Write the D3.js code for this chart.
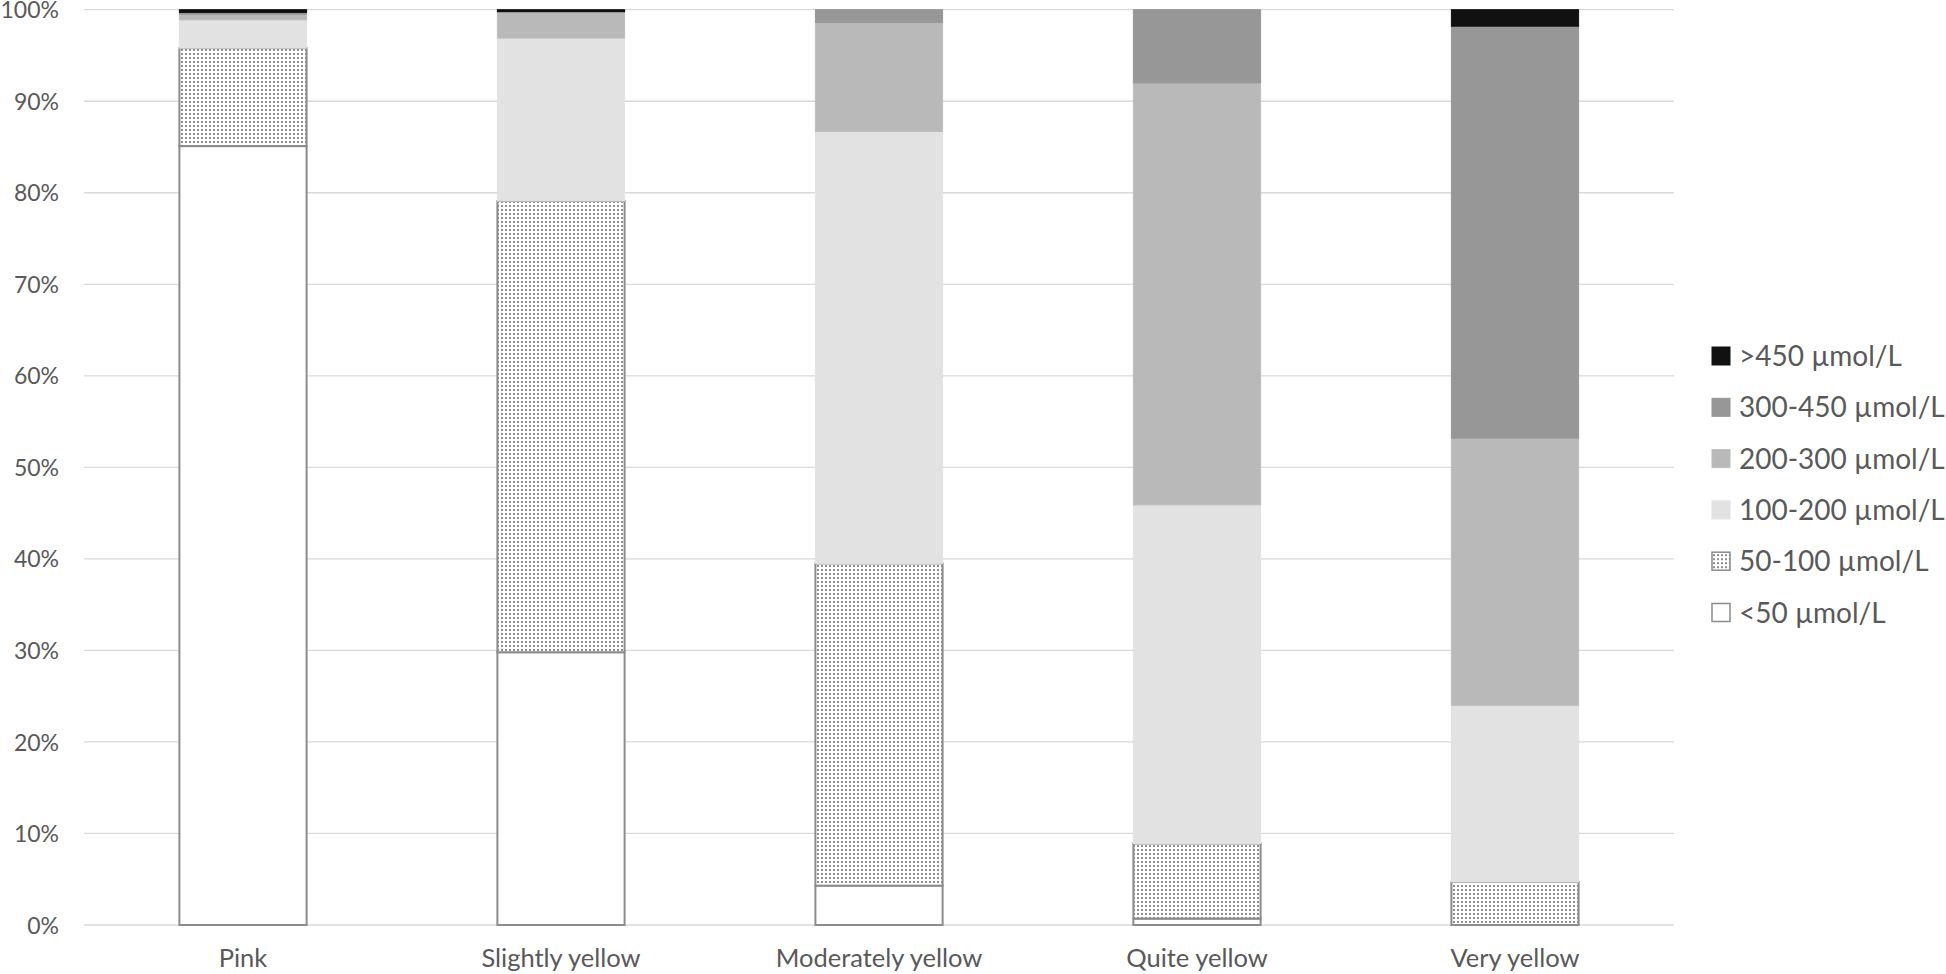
<!DOCTYPE html>
<html>
<head>
<meta charset="utf-8">
<script src="https://cdn.jsdelivr.net/npm/d3@7/dist/d3.min.js"></script>
<style>
  html, body { margin: 0; padding: 0; background: #fff; }
  svg { display: block; }
  text { font-family: Lato, "Open Sans", sans-serif; fill: #595959; }
</style>
</head>
<body>
<svg id="chart" width="1946" height="974"></svg>
<script>
const categories = ["Pink", "Slightly yellow", "Moderately yellow", "Quite yellow", "Very yellow"];
const seriesNames = ["<50 µmol/L", "50-100 µmol/L", "100-200 µmol/L", "200-300 µmol/L", "300-450 µmol/L", ">450 µmol/L"];
const lt50   = [85.1, 29.8, 4.3, 0.7, 0.0];
const s50    = [10.7, 49.3, 35.2, 8.2, 4.7];
const s100   = [3.1, 17.8, 47.2, 37.0, 19.3];
const s200   = [0.6, 2.8, 11.9, 46.1, 29.2];
const s300   = [0.2, 0.1, 1.4, 8.0, 45.0];
const gt450  = [0.3, 0.2, 0.0, 0.0, 1.8];
const yTicks = [0, 10, 20, 30, 40, 50, 60, 70, 80, 90, 100];

const seriesValues = [lt50, s50, s100, s200, s300, gt450];
const fills   = ["#ffffff", "url(#dots)", "#e2e2e2", "#b9b9b9", "#979797", "#111111"];
const strokes = ["#8c8c8c", "#8c8c8c", "#e2e2e2", "#bdbdbd", "#979797", "#111111"];
const strokeW = [2, 2, 1, 1, 1, 1];

const rows = categories.map((c, i) => {
  const r = { cat: c };
  seriesNames.forEach((s, k) => r[s] = seriesValues[k][i]);
  return r;
});
const stacked = d3.stack().keys(seriesNames)(rows);

const svg = d3.select("#chart");
const defs = svg.append("defs");
const pat = defs.append("pattern").attr("id", "dots")
  .attr("patternUnits", "userSpaceOnUse").attr("width", 4).attr("height", 4);
pat.append("rect").attr("width", 4).attr("height", 4).attr("fill", "#ffffff");
pat.append("rect").attr("x", 1).attr("y", 1).attr("width", 2).attr("height", 2).attr("fill", "#8f8f8f");

const mLeft = 84, mRight = 1674, mTop = 9.7, mBottom = 925;
const x = d3.scaleBand().domain(categories).range([mLeft, mRight]).paddingInner(0.6).paddingOuter(0.3);
const y = d3.scaleLinear().domain([0, 100]).range([mBottom, mTop]);

// gridlines
svg.append("g").selectAll("line").data(yTicks).join("line")
  .attr("x1", mLeft).attr("x2", mRight)
  .attr("y1", d => y(d)).attr("y2", d => y(d))
  .attr("stroke", "#d9d9d9").attr("stroke-width", 1.3);

// y axis labels
const yAxis = d3.axisLeft(y).tickValues(yTicks).tickFormat(d => d + "%").tickSize(0).tickPadding(0);
const yg = svg.append("g").attr("transform", `translate(${mLeft - 25},0)`).call(yAxis);
yg.select(".domain").remove();
yg.selectAll("text").attr("font-size", 23).attr("fill", "#595959")
  .style("font-family", "Lato, 'Open Sans', sans-serif").attr("dy", "0.35em");

// bars
const layers = svg.append("g").selectAll("g").data(stacked).join("g")
  .attr("fill", (d, i) => fills[i]).attr("stroke", (d, i) => strokes[i])
  .attr("stroke-width", (d, i) => strokeW[i]);
layers.selectAll("rect").data(d => d.filter(p => p[1] - p[0] > 0)).join("rect")
  .attr("x", d => x(d.data.cat))
  .attr("width", x.bandwidth())
  .attr("y", d => y(d[1]))
  .attr("height", d => y(d[0]) - y(d[1]));

// x axis labels
const xAxis = d3.axisBottom(x).tickSize(0).tickPadding(0);
const xg = svg.append("g").attr("transform", `translate(0,${mBottom + 33})`).call(xAxis);
xg.select(".domain").remove();
xg.selectAll("text").attr("font-size", 25.5).attr("fill", "#595959")
  .style("font-family", "Lato, 'Open Sans', sans-serif").attr("dy", "0.35em");

// legend (top = last series)
const legendOrder = seriesNames.map((s, i) => i).reverse();
const lg = svg.append("g");
const lItems = lg.selectAll("g").data(legendOrder).join("g")
  .attr("transform", (d, j) => `translate(1712, ${356 + j * 51.3})`);
lItems.append("rect").attr("x", 0).attr("y", -9).attr("width", 18).attr("height", 18)
  .attr("fill", i => fills[i]).attr("stroke", i => strokes[i]).attr("stroke-width", i => i < 2 ? 1.5 : 1);
lItems.append("text").attr("x", 27).attr("y", 0).attr("dy", "0.36em")
  .attr("font-size", 28).text(i => seriesNames[i]);
</script>
</body>
</html>
